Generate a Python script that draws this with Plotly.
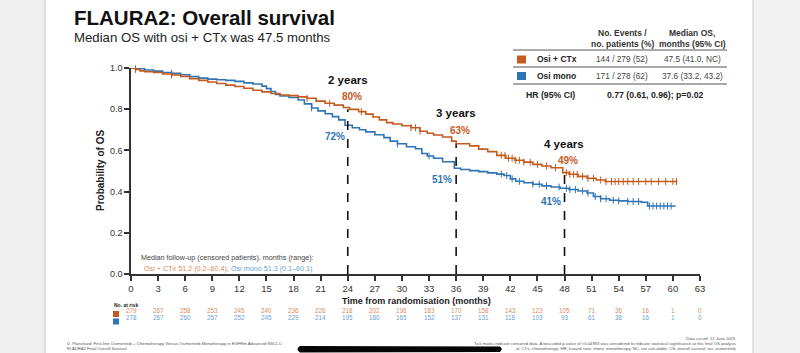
import numpy as np
import plotly.graph_objects as go

# ---------------- data ----------------
ctx_t = [0, 0.5, 1.0, 1.5, 2.5, 3.5, 4.5, 5.5, 6.5, 7.5, 8.5, 9.5, 10.5, 11.5, 12.5, 13.5,
         14.5, 15.5, 16.5, 17.5, 18.5, 19.5, 20.5, 21.5, 22.5, 23.5, 24.2, 25.2, 26, 26.8,
         27.5, 28.3, 29, 30, 31, 32, 32.8, 33.5, 34.5, 35.5, 36.0, 37.5, 38.5, 39.5, 40.5,
         41.5, 42.5, 43.5, 44.5, 45.5, 46.5, 47.8, 48.5, 49.5, 50.5, 51.5, 52.5, 60.5]
ctx_s = [1.0, 0.993, 0.986, 0.982, 0.978, 0.971, 0.966, 0.959, 0.948, 0.94, 0.932, 0.925,
         0.917, 0.91, 0.902, 0.892, 0.884, 0.876, 0.869, 0.866, 0.86, 0.853, 0.839, 0.829,
         0.82, 0.808, 0.799, 0.788, 0.776, 0.762, 0.748, 0.735, 0.728, 0.72, 0.71, 0.693,
         0.683, 0.675, 0.665, 0.645, 0.632, 0.622, 0.606, 0.594, 0.576, 0.562, 0.552, 0.543,
         0.532, 0.524, 0.516, 0.492, 0.484, 0.474, 0.465, 0.456, 0.449, 0.449]
ctx_cens = [0.5, 4.5, 19.5, 22.0, 25.5, 31.0, 31.5, 32.0, 41.0, 41.4, 41.8, 42.2, 42.6, 43.0,
            43.5, 44.2, 45.0, 46.0, 47.0, 48.2, 48.6, 49.0, 49.4, 50.0, 50.6, 51.2, 52.0,
            52.6, 53.2, 53.6, 54.0, 54.5, 55.0, 55.6, 56.2, 57.0, 57.6, 58.4, 59.2, 60.0, 60.4]

mono_t = [0, 0.5, 1.5, 2.5, 3.5, 4.5, 5.5, 6.5, 7.5, 8.5, 9.5, 10.5, 11.5, 12.5, 13.5, 14.5,
          15.0, 15.5, 16.0, 16.5, 17.5, 18.5, 19.2, 20, 20.7, 21.5, 22.3, 23, 23.7, 24.5,
          25.3, 26, 27, 28, 28.7, 29.5, 30.5, 31.5, 32.2, 32.8, 33.5, 34.5, 35.8, 36.5, 37.5,
          38.5, 39.5, 40.5, 41.3, 42, 42.6, 43.5, 44.5, 45.5, 46.5, 47.5, 48.5, 49.5, 50.5,
          51.2, 52, 53, 54, 55, 56.5, 57.2, 60.3]
mono_s = [1.0, 0.996, 0.99, 0.985, 0.978, 0.974, 0.967, 0.958, 0.951, 0.946, 0.943, 0.94,
          0.935, 0.928, 0.922, 0.912, 0.9, 0.886, 0.872, 0.864, 0.857, 0.845, 0.826, 0.806,
          0.792, 0.778, 0.764, 0.748, 0.722, 0.71, 0.70, 0.69, 0.676, 0.662, 0.645, 0.632,
          0.618, 0.608, 0.585, 0.573, 0.562, 0.545, 0.513, 0.507, 0.502, 0.497, 0.491, 0.485,
          0.478, 0.462, 0.45, 0.443, 0.436, 0.428, 0.422, 0.416, 0.41, 0.403, 0.393, 0.376,
          0.365, 0.358, 0.355, 0.352, 0.348, 0.33, 0.33]
mono_cens = [0.5, 4.5, 20.0, 29.5, 33.0, 41.0, 41.6, 42.2, 43.0, 44.5, 45.2, 46.0, 47.4,
             48.2, 48.6, 49.2, 50.0, 50.6, 51.4, 52.0, 52.6, 53.4, 54.0, 55.0, 55.6, 56.2,
             57.4, 57.8, 58.2, 58.6, 59.0, 59.4, 59.8]

milestones = [24, 36, 48]
milestone_labels = ["2 years", "3 years", "4 years"]
ctx_pct = [80, 63, 49]
mono_pct = [72, 51, 41]

xticks = list(range(0, 64, 3))
risk_ctx = [279, 267, 258, 253, 245, 240, 236, 226, 218, 202, 196, 183, 170, 158, 143, 123,
            105, 71, 36, 16, 1, 0]
risk_mono = [278, 267, 260, 257, 252, 245, 229, 214, 195, 180, 165, 152, 137, 131, 118, 103,
             93, 61, 38, 16, 1, 0]

# ---------------- styling ----------------
ORANGE = "#C55A1E"
BLUE = "#2F75B5"
ORANGE_L = "#D98A5E"
BLUE_L = "#6A9FD0"
FONT = "Liberation Sans, Arial, sans-serif"
W, H = 800, 353
L, R, T, B = 131, 700, 68, 274


def px(x):
    return (x - L) / (R - L)


def py(y):
    return (B - y) / (B - T)


def step_val(ts, ss, t):
    i = np.searchsorted(np.array(ts), t, side="right") - 1
    return np.array(ss)[i]


fig = go.Figure()

# curves
for ts, ss, cens, col in [(mono_t, mono_s, mono_cens, BLUE), (ctx_t, ctx_s, ctx_cens, ORANGE)]:
    fig.add_trace(go.Scatter(x=ts, y=ss, mode="lines", line=dict(color=col, width=1.6, shape="hv"),
                             cliponaxis=False, showlegend=False, hoverinfo="skip"))
    cy = [step_val(ts, ss, c) for c in cens]
    fig.add_trace(go.Scatter(x=cens, y=cy, mode="markers",
                             marker=dict(symbol="line-ns", size=5, line=dict(width=1, color=col)),
                             cliponaxis=False, showlegend=False, hoverinfo="skip"))

# milestone dashed lines
for m, p in zip(milestones, ctx_pct):
    fig.add_trace(go.Scatter(x=[m, m], y=[0, p / 100], mode="lines",
                             line=dict(color="#111", width=1.6, dash="dash"),
                             showlegend=False, hoverinfo="skip"))

ann = []


def text(x, y, s, size, color="#222", bold=False, xanchor="center", yanchor="middle", **kw):
    if bold:
        s = "<b>" + s + "</b>"
    ann.append(dict(x=px(x), y=py(y), xref="paper", yref="paper", text=s, showarrow=False,
                    xanchor=xanchor, yanchor=yanchor,
                    font=dict(family=FONT, size=size, color=color), **kw))


# milestone labels
lab_px = {24: (348, 80, 352, 96, 335, 136), 36: (456, 113, 460, 130, 442, 179),
          48: (564, 144, 568, 160, 551, 201)}
for m, lab, pc, pm in zip(milestones, milestone_labels, ctx_pct, mono_pct):
    a = lab_px[m]
    text(a[0], a[1], lab, 11.5, "#111", True)
    text(a[2], a[3], f"{pc}%", 10, ORANGE, True)
    text(a[4], a[5], f"{pm}%", 10, BLUE, True)

# title
text(72, 17, "FLAURA2: Overall survival", 20.5, "#111", True, xanchor="left")
text(72, 37, "Median OS with osi + CTx was 47.5 months", 13.2, "#222", xanchor="left")

# axis titles
text(100, 171, "Probability of OS", 10, "#222", True, textangle=-90)
text(416, 301, "Time from randomisation (months)", 9, "#222", True)

# table
text(622, 33, "No. Events /", 8.5, "#333", True)
text(622, 44, "no. patients (%)", 8.5, "#333", True)
text(692, 33, "Median OS,", 8.5, "#333", True)
text(692, 44, "months (95% CI)", 8.5, "#333", True)
text(535, 59.5, "Osi + CTx", 8.5, "#222", True, xanchor="left")
text(622, 59.5, "144 / 279 (52)", 8.3, "#444")
text(692, 59.5, "47.5 (41.0, NC)", 8.3, "#444")
text(535, 76, "Osi mono", 8.5, "#222", True, xanchor="left")
text(622, 76, "171 / 278 (62)", 8.3, "#444")
text(692, 76, "37.6 (33.2, 43.2)", 8.3, "#444")
text(550, 95, "HR (95% CI)", 8.7, "#222", True)
text(655, 95, "0.77 (0.61, 0.96); p=0.02", 8.7, "#222", True)

# median follow-up
text(139, 257, "Median follow-up (censored patients), months (range):", 7.2, "#444", xanchor="left")
text(142, 268, f"<span style='color:{ORANGE_L}'>Osi + CTx 51.2 (0.2–60.4); </span>"
     f"<span style='color:{BLUE_L}'>Osi mono 51.3 (0.1–60.1)</span>", 7.2, "#444", xanchor="left")

# number at risk
text(113, 305, "No. at risk", 5, "#222", True, xanchor="left", borderpad=0)
for xv, rc, rm in zip(xticks, risk_ctx, risk_mono):
    ann.append(dict(x=xv, y=py(314.5), xref="x", yref="paper", text=str(rc), showarrow=False,
                    borderpad=0, font=dict(family=FONT, size=6.3, color=ORANGE_L)))
    ann.append(dict(x=xv, y=py(321.5), xref="x", yref="paper", text=str(rm), showarrow=False,
                    borderpad=0, font=dict(family=FONT, size=6.3, color=BLUE_L)))

# footnotes
text(65, 343.5, "D. Planchard. First-line Osimertinib + Chemotherapy Versus Osimertinib Monotherapy in EGFRm Advanced NSCLC:",
     4.2, "#555", xanchor="left")
text(65, 348.5, "FLAURA2 Final Overall Survival", 4.2, "#555", xanchor="left")
text(738, 338.5, "Data cut-off: 12 June 2025", 4.2, "#555", xanchor="right")
text(738, 343.5, "Tick marks indicate censored data. A two-sided p-value of &lt;0.04953 was considered to indicate statistical significance at this final OS analysis",
     4.2, "#555", xanchor="right")
text(738, 348.5, "al; CTx, chemotherapy; HR, hazard ratio; mono, monotherapy; NC, not calculable; OS, overall survival; osi, osimertinib",
     4.2, "#555", xanchor="right")

shapes = []


def rect(x0, y0, x1, y1, fill, line=None, layer="below"):
    shapes.append(dict(type="rect", xref="paper", yref="paper", x0=px(x0), x1=px(x1),
                       y0=py(y1), y1=py(y0), fillcolor=fill,
                       line=dict(width=0) if line is None else line, layer=layer))


def hline(x0, x1, y, color="#555", width=1):
    shapes.append(dict(type="line", xref="paper", yref="paper", x0=px(x0), x1=px(x1),
                       y0=py(y), y1=py(y), line=dict(color=color, width=width)))


# slide edges
rect(0, 0, 45, H, "#efefef")
rect(753, 0, W, H, "#f1f1f1")
shapes.append(dict(type="line", xref="paper", yref="paper", x0=px(45), x1=px(45), y0=py(0), y1=py(H),
                   line=dict(color="#d6d6d6", width=1.5)))
shapes.append(dict(type="line", xref="paper", yref="paper", x0=px(753), x1=px(753), y0=py(0), y1=py(H),
                   line=dict(color="#dcdcdc", width=1.5)))

# table lines and swatches
hline(513, 727, 50, "#555", 1.2)
hline(513, 727, 67, "#555", 1.2)
hline(513, 727, 84, "#555", 1.2)
rect(517, 55.5, 526, 63.5, ORANGE, layer="above")
rect(517, 72, 526, 80, BLUE, layer="above")

# risk swatches
rect(113, 311, 119, 317, ORANGE, layer="above")
rect(113, 318.5, 119, 324.5, BLUE, layer="above")

# redaction bar
shapes.append(dict(type="path", xref="paper", yref="paper",
                   path=f"M {px(300)},{py(346)} L {px(500)},{py(346.5)} L {px(502)},{py(349)} L {px(500)},{py(352)} L {px(300)},{py(352.5)} Q {px(295)},{py(349.2)} {px(300)},{py(346)} Z",
                   fillcolor="#050505", line=dict(width=0), layer="above"))

fig.update_layout(
    width=W, height=H,
    margin=dict(l=L, r=W - R, t=T, b=H - B),
    paper_bgcolor="white", plot_bgcolor="white",
    font=dict(family=FONT, color="#333"),
    annotations=ann, shapes=shapes,
    xaxis=dict(range=[0, 63], tickvals=xticks, ticks="outside", ticklen=5, tickwidth=1.5,
               tickcolor="#333", showline=True, linecolor="#333", linewidth=1.5,
               showgrid=False, zeroline=False, tickfont=dict(size=9.5, color="#333", family=FONT)),
    yaxis=dict(range=[0, 1.0], tickvals=[0, 0.2, 0.4, 0.6, 0.8, 1.0], tickformat=".1f",
               ticks="outside", ticklen=5, tickwidth=1.5, tickcolor="#333", showline=True,
               linecolor="#333", linewidth=1.5, showgrid=False, zeroline=False,
               tickfont=dict(size=9, color="#333", family=FONT)),
)

fig.write_html("out.html")
